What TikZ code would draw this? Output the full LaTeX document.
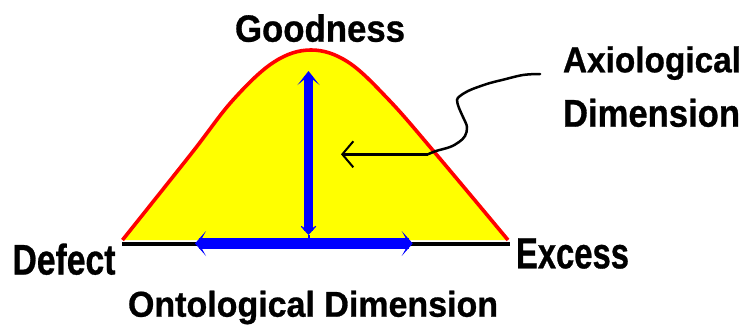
\documentclass[tikz,border=0pt]{standalone}
\usepackage{fontspec}
\setmainfont{Liberation Sans}
\newfontfamily\lblfont[FakeBold=0.8]{Liberation Sans}
\usetikzlibrary{arrows.meta}
\definecolor{bellyellow}{RGB}{255,255,0}
\definecolor{bellred}{RGB}{255,0,0}
\definecolor{axisblue}{RGB}{0,0,255}
\begin{document}
\begin{tikzpicture}[x=1pt,y=-1pt,
  lbl/.style={inner sep=0pt, outer sep=0pt, anchor=base west, font=\lblfont\bfseries},
  bluearrow/.style={draw=axisblue, line width=#1},
  pointer/.style={line width=2.5pt, line cap=round}]
\useasboundingbox (0,0) rectangle (743,327);
\fill[white] (0,0) rectangle (743,327);
% bell curve
\filldraw[fill=bellyellow, draw=bellred, line width=3.6pt, line join=round]
  plot[smooth, tension=0.6] coordinates {(122.5,240) (191,154) (233,100) (274,62) (311,50) (348,62) (389,100) (436,154) (508,240)};
% baseline
\coordinate (baseL) at (122,243.7);
\coordinate (baseR) at (510,243.7);
\draw[line width=4pt] (baseL) -- (baseR);
% blue axes
\coordinate (hL) at (195,243.5);
\coordinate (hR) at (412.7,243.5);
\coordinate (vT) at (308.5,71);
\coordinate (vB) at (308.5,235);
\coordinate (vJ) at (308.5,239);
\draw[axisblue, line width=2pt] (vB) -- (vJ);
\draw[bluearrow=11pt, {Stealth[length=11pt,width=25pt,inset=7pt]}-{Stealth[length=11pt,width=25pt,inset=7pt]}] (hL) -- (hR);
\draw[bluearrow=9pt, {Stealth[length=14pt,width=22pt,inset=9pt]}-{Stealth[length=12pt,width=22pt,inset=8pt]}] (vT) -- (vB);
% pointer
\coordinate (pTip) at (341,154.3);
\coordinate (pHit) at (428,154.3);
\coordinate (pEnd) at (540,74);
\draw[line width=2.5pt, -{Straight Barb[length=11pt,width=26pt,line width=2pt]}] (pHit) -- (pTip);
\draw[pointer] plot[smooth, tension=0.6] coordinates {(pHit) (436,151) (450,147) (459,142) (465,136) (467,127) (463,117) (459,108) (457,100) (460,96) (468,91) (478,87) (490,83) (502,80) (523,75) (pEnd)};
% labels
\node[lbl] (good) at (235,41.7) {\resizebox{170pt}{27.5pt}{Goodness}};
\node[lbl] (axio) at (563,72.3) {\resizebox{178pt}{26pt}{Axiological}};
\node[lbl] (dimR) at (563,126.7) {\resizebox{177pt}{28pt}{Dimension}};
\node[lbl] (defect) at (12.5,274.5) {\resizebox{103pt}{31pt}{Defect}};
\node[lbl] (excess) at (516,268.3) {\resizebox{113pt}{30pt}{Excess}};
\node[lbl] (onto) at (128,316.7) {\resizebox{370pt}{26pt}{Ontological Dimension}};
\end{tikzpicture}
\end{document}
